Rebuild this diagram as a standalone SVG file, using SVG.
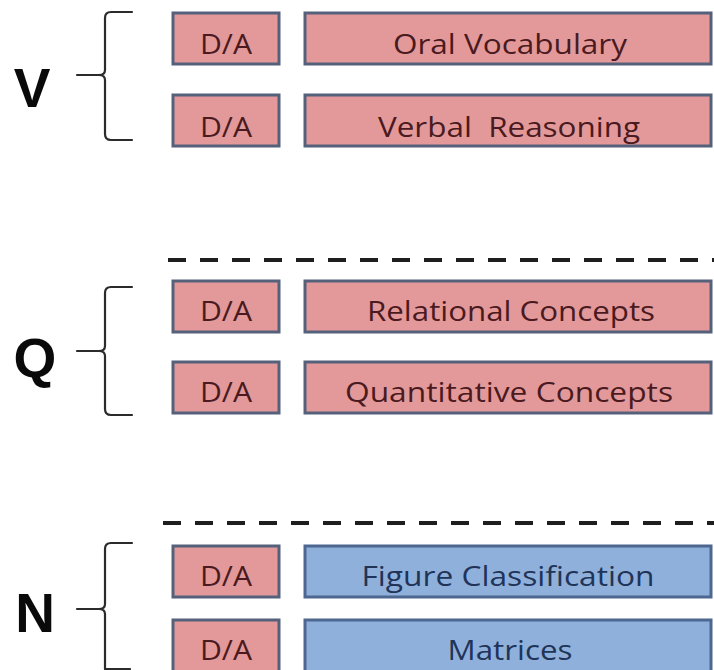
<svg xmlns="http://www.w3.org/2000/svg" width="714" height="670" viewBox="0 0 714 670">
  <style>
    .bg { fill: #ffffff; }
    .brace { fill: none; stroke: #2b2b2b; stroke-width: 2.2; stroke-linecap: round; stroke-linejoin: round; }
    .sep { fill: none; stroke: #1e1e1e; stroke-width: 4; stroke-dasharray: 18 14; }
    .tag { font-family: "Liberation Sans", Arial, sans-serif; font-weight: bold; font-size: 55px; fill: #0a0a0a; text-anchor: middle; }
    .box-r { fill: #e3999a; stroke: #55607a; stroke-width: 3; }
    .box-b { fill: #90b0dc; stroke: #4d6790; stroke-width: 3; }
    .lbl { font-family: "Open Sans", "Liberation Sans", sans-serif; font-size: 28px; text-anchor: middle; }
    .lbl-r { fill: #4a1a20; }
    .lbl-b { fill: #1f3457; }
  </style>

  <rect class="bg" x="0" y="0" width="714" height="670"/>

  <!-- section separators -->
  <g id="separators">
    <line class="sep" x1="168" y1="260" x2="714" y2="260"/>
    <line class="sep" x1="163" y1="523" x2="714" y2="523"/>
  </g>

  <!-- V group -->
  <g id="group-v">
    <text class="tag" x="32" y="107">V</text>
    <path class="brace" d="M132,12 H111 Q105,12 105,18 V70 Q105,75 99,75 Q105,75 105,80 V134 Q105,140 111,140 H132"/>
    <line class="brace" x1="77" y1="75" x2="99" y2="75"/>
  </g>
  <g id="v-da-1">
    <rect class="box-r" x="173" y="13" width="106" height="51"/>
    <text class="lbl lbl-r" x="226" y="54" textLength="52" lengthAdjust="spacingAndGlyphs">D/A</text>
  </g>
  <g id="v-oral-vocabulary">
    <rect class="box-r" x="305" y="13" width="406" height="51"/>
    <text class="lbl lbl-r" x="510" y="54" textLength="234" lengthAdjust="spacingAndGlyphs">Oral Vocabulary</text>
  </g>
  <g id="v-da-2">
    <rect class="box-r" x="173" y="95" width="106" height="51"/>
    <text class="lbl lbl-r" x="226" y="137" textLength="52" lengthAdjust="spacingAndGlyphs">D/A</text>
  </g>
  <g id="v-verbal-reasoning">
    <rect class="box-r" x="305" y="95" width="406" height="51"/>
    <text class="lbl lbl-r" x="509" y="137" textLength="262" lengthAdjust="spacingAndGlyphs" xml:space="preserve">Verbal  Reasoning</text>
  </g>

  <!-- Q group -->
  <g id="group-q">
    <text class="tag" x="35" y="377">Q</text>
    <path class="brace" d="M132,287 H111 Q105,287 105,293 V346 Q105,351 99,351 Q105,351 105,356 V409 Q105,415 111,415 H132"/>
    <line class="brace" x1="77" y1="351" x2="99" y2="351"/>
  </g>
  <g id="q-da-1">
    <rect class="box-r" x="173" y="281" width="106" height="51"/>
    <text class="lbl lbl-r" x="226" y="321" textLength="52" lengthAdjust="spacingAndGlyphs">D/A</text>
  </g>
  <g id="q-relational-concepts">
    <rect class="box-r" x="305" y="281" width="406" height="51"/>
    <text class="lbl lbl-r" x="511" y="321" textLength="288" lengthAdjust="spacingAndGlyphs">Relational Concepts</text>
  </g>
  <g id="q-da-2">
    <rect class="box-r" x="173" y="362" width="106" height="51"/>
    <text class="lbl lbl-r" x="226" y="402" textLength="52" lengthAdjust="spacingAndGlyphs">D/A</text>
  </g>
  <g id="q-quantitative-concepts">
    <rect class="box-r" x="305" y="362" width="406" height="51"/>
    <text class="lbl lbl-r" x="509" y="402" textLength="328" lengthAdjust="spacingAndGlyphs">Quantitative Concepts</text>
  </g>

  <!-- N group -->
  <g id="group-n">
    <text class="tag" x="35" y="632">N</text>
    <path class="brace" d="M132,543 H111 Q105,543 105,549 V604 Q105,609 99,609 Q105,609 105,614 V669 H130"/>
    <line class="brace" x1="77" y1="609" x2="99" y2="609"/>
  </g>
  <g id="n-da-1">
    <rect class="box-r" x="173" y="546" width="106" height="51"/>
    <text class="lbl lbl-r" x="226" y="586" textLength="52" lengthAdjust="spacingAndGlyphs">D/A</text>
  </g>
  <g id="n-figure-classification">
    <rect class="box-b" x="305" y="546" width="406" height="51"/>
    <text class="lbl lbl-b" x="508" y="586" textLength="293" lengthAdjust="spacingAndGlyphs">Figure Classification</text>
  </g>
  <g id="n-da-2">
    <rect class="box-r" x="173" y="620" width="106" height="60"/>
    <text class="lbl lbl-r" x="226" y="660" textLength="52" lengthAdjust="spacingAndGlyphs">D/A</text>
  </g>
  <g id="n-matrices">
    <rect class="box-b" x="305" y="620" width="406" height="60"/>
    <text class="lbl lbl-b" x="510" y="660" textLength="125" lengthAdjust="spacingAndGlyphs">Matrices</text>
  </g>
</svg>
